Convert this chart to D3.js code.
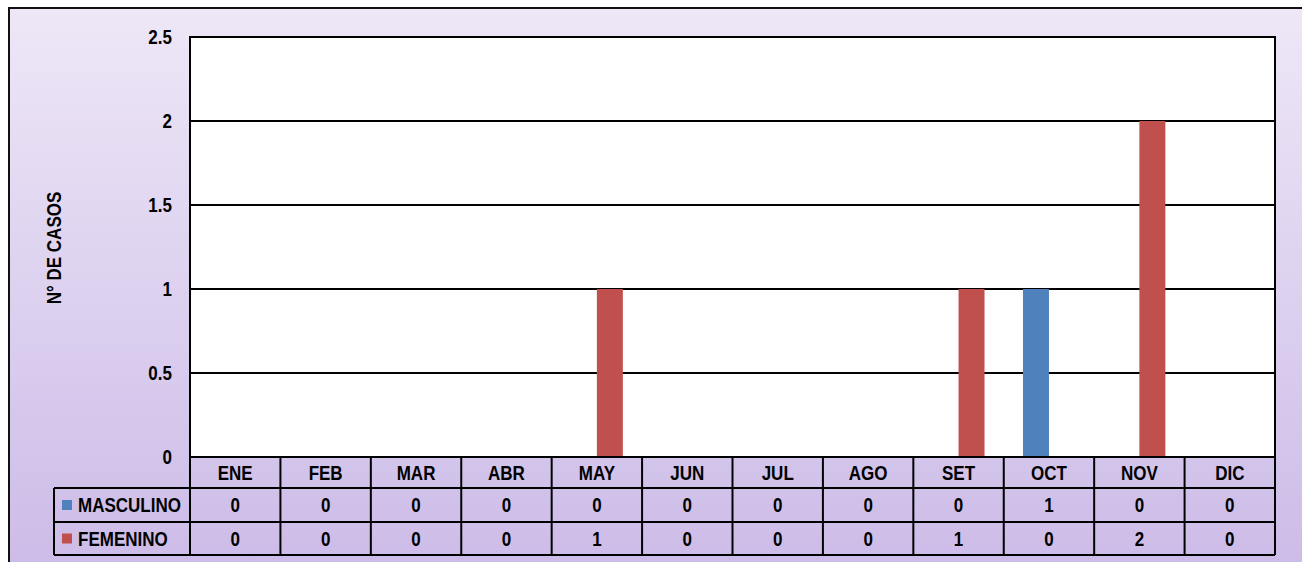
<!DOCTYPE html>
<html>
<head>
<meta charset="utf-8">
<script src="https://cdnjs.cloudflare.com/ajax/libs/d3/7.8.5/d3.min.js"></script>
<style>
    body { margin: 0; background: #fff; }
    #chart-area { width: 1302px; height: 562px; }
    text { font-family: "Liberation Sans Narrow", "Liberation Sans", Arial, sans-serif; font-weight: bold; fill: #000; }
</style>
</head>
<body>
<div id="chart-area"></div>
<script>
// data
const months = ["ENE", "FEB", "MAR", "ABR", "MAY", "JUN", "JUL", "AGO", "SET", "OCT", "NOV", "DIC"];
const seriesNames = ["MASCULINO", "FEMENINO"];
const masculino = [0, 0, 0, 0, 0, 0, 0, 0, 0, 1, 0, 0];
const femenino = [0, 0, 0, 0, 1, 0, 0, 0, 1, 0, 2, 0];
const yTicks = [0, 0.5, 1, 1.5, 2, 2.5];
const seriesColors = ["#4f81bd", "#c0504d"];

// narrow look: squeeze regular bold text horizontally
const SQUEEZE = 0.81;
function place(x, y, rot) {
    return "translate(" + x + "," + y + ")" + (rot ? " rotate(" + rot + ")" : "") + " scale(" + SQUEEZE + ",1)";
}

class BarTableChart {
    constructor(parentElement, data) {
        this.parentElement = parentElement;
        this.data = data;
        this.initVis();
    }

    initVis() {
        let vis = this;

        vis.width = 1302;
        vis.height = 562;
        vis.plot = {left: 190, right: 1275, top: 37, bottom: 457};
        vis.rowH = [31, 34, 33];   // header row, masculino row, femenino row

        vis.svg = d3.select("#" + vis.parentElement).append("svg")
            .attr("width", vis.width)
            .attr("height", vis.height);

        // lavender background gradient
        let grad = vis.svg.append("defs").append("linearGradient")
            .attr("id", "bg")
            .attr("x1", 0).attr("y1", 0).attr("x2", 0).attr("y2", 1);
        grad.append("stop").attr("offset", "0%").attr("stop-color", "#eee7f7");
        grad.append("stop").attr("offset", "100%").attr("stop-color", "#cbbae7");

        // outer frame (runs off the right and bottom edge)
        vis.svg.append("rect")
            .attr("x", 9).attr("y", 8)
            .attr("width", 1320).attr("height", 580)
            .attr("fill", "url(#bg)")
            .attr("stroke", "#111")
            .attr("stroke-width", 2);

        // scales
        vis.x = d3.scaleBand()
            .domain(vis.data.months)
            .range([vis.plot.left, vis.plot.right])
            .padding(0);

        vis.xInner = d3.scaleBand()
            .domain(vis.data.series.map(d => d.name))
            .range([0, vis.x.bandwidth()])
            .paddingInner(0)
            .paddingOuter(0.74);

        vis.y = d3.scaleLinear()
            .domain([0, 2.5])
            .range([vis.plot.bottom, vis.plot.top]);

        // plot area
        vis.svg.append("rect")
            .attr("x", vis.plot.left).attr("y", vis.plot.top)
            .attr("width", vis.plot.right - vis.plot.left)
            .attr("height", vis.plot.bottom - vis.plot.top)
            .attr("fill", "#fff");

        // gridlines
        vis.svg.append("g")
            .selectAll("line")
            .data(vis.data.yTicks)
            .enter()
            .append("line")
            .attr("x1", vis.plot.left)
            .attr("x2", vis.plot.right)
            .attr("y1", d => vis.y(d))
            .attr("y2", d => vis.y(d))
            .attr("stroke", "#000")
            .attr("stroke-width", 1.8);

        // y tick labels
        vis.svg.append("g")
            .selectAll("text")
            .data(vis.data.yTicks)
            .enter()
            .append("text")
            .attr("transform", d => place(172, vis.y(d)))
            .attr("dy", "0.35em")
            .attr("text-anchor", "end")
            .attr("font-size", 21)
            .text(d => d);

        // y axis title
        vis.svg.append("text")
            .attr("transform", "translate(61,248) rotate(-90) scale(" + SQUEEZE + ",1)")
            .attr("text-anchor", "middle")
            .attr("font-size", 21)
            .text("N° DE CASOS");

        // bars
        vis.data.series.forEach(function(s) {
            vis.svg.append("g")
                .selectAll("rect")
                .data(s.values)
                .enter()
                .append("rect")
                .attr("x", (d, i) => vis.x(vis.data.months[i]) + vis.xInner(s.name))
                .attr("width", vis.xInner.bandwidth())
                .attr("y", d => vis.y(d))
                .attr("height", d => vis.y(0) - vis.y(d))
                .attr("fill", s.color);
        });

        // plot frame on top
        vis.svg.append("rect")
            .attr("x", vis.plot.left).attr("y", vis.plot.top)
            .attr("width", vis.plot.right - vis.plot.left)
            .attr("height", vis.plot.bottom - vis.plot.top)
            .attr("fill", "none")
            .attr("stroke", "#000")
            .attr("stroke-width", 2);

        vis.drawTable();
    }

    drawTable() {
        let vis = this;

        let top = vis.plot.bottom;
        let rowTop = [top, top + vis.rowH[0], top + vis.rowH[0] + vis.rowH[1]];
        let bottom = rowTop[2] + vis.rowH[2];
        let labelLeft = 54;
        let table = vis.svg.append("g");

        // horizontal lines
        [rowTop[1], rowTop[2], bottom].forEach(function(yy) {
            table.append("line")
                .attr("x1", labelLeft).attr("x2", vis.plot.right)
                .attr("y1", yy).attr("y2", yy);
        });
        table.append("line")
            .attr("x1", labelLeft).attr("x2", labelLeft)
            .attr("y1", rowTop[1]).attr("y2", bottom);

        // vertical column lines
        table.selectAll(".col")
            .data(vis.data.months.concat(["end"]))
            .enter()
            .append("line")
            .attr("class", "col")
            .attr("x1", (d, i) => vis.plot.left + i * vis.x.step())
            .attr("x2", (d, i) => vis.plot.left + i * vis.x.step())
            .attr("y1", top)
            .attr("y2", bottom);

        table.selectAll("line")
            .attr("stroke", "#000")
            .attr("stroke-width", 2);

        // month headers
        table.selectAll(".month")
            .data(vis.data.months)
            .enter()
            .append("text")
            .attr("class", "month")
            .attr("transform", d => place(vis.x(d) + vis.x.bandwidth() / 2, top + vis.rowH[0] / 2))
            .attr("dy", "0.35em")
            .attr("text-anchor", "middle")
            .attr("font-size", 21)
            .text(d => d);

        // series rows
        vis.data.series.forEach(function(s, si) {
            let cy = rowTop[si + 1] + vis.rowH[si + 1] / 2;

            table.append("rect")
                .attr("x", 62).attr("y", cy - 5)
                .attr("width", 10).attr("height", 10)
                .attr("fill", s.color);

            table.append("text")
                .attr("transform", place(78, cy))
                .attr("dy", "0.35em")
                .attr("font-size", 21)
                .text(s.name);

            table.selectAll(".v" + si)
                .data(s.values)
                .enter()
                .append("text")
                .attr("class", "v" + si)
                .attr("transform", (d, i) => place(vis.x(vis.data.months[i]) + vis.x.bandwidth() / 2, cy))
                .attr("dy", "0.35em")
                .attr("text-anchor", "middle")
                .attr("font-size", 21)
                .text(d => d);
        });
    }
}

new BarTableChart("chart-area", {
    months: months,
    yTicks: yTicks,
    series: [
        {name: seriesNames[0], values: masculino, color: seriesColors[0]},
        {name: seriesNames[1], values: femenino, color: seriesColors[1]}
    ]
});
</script>
</body>
</html>
